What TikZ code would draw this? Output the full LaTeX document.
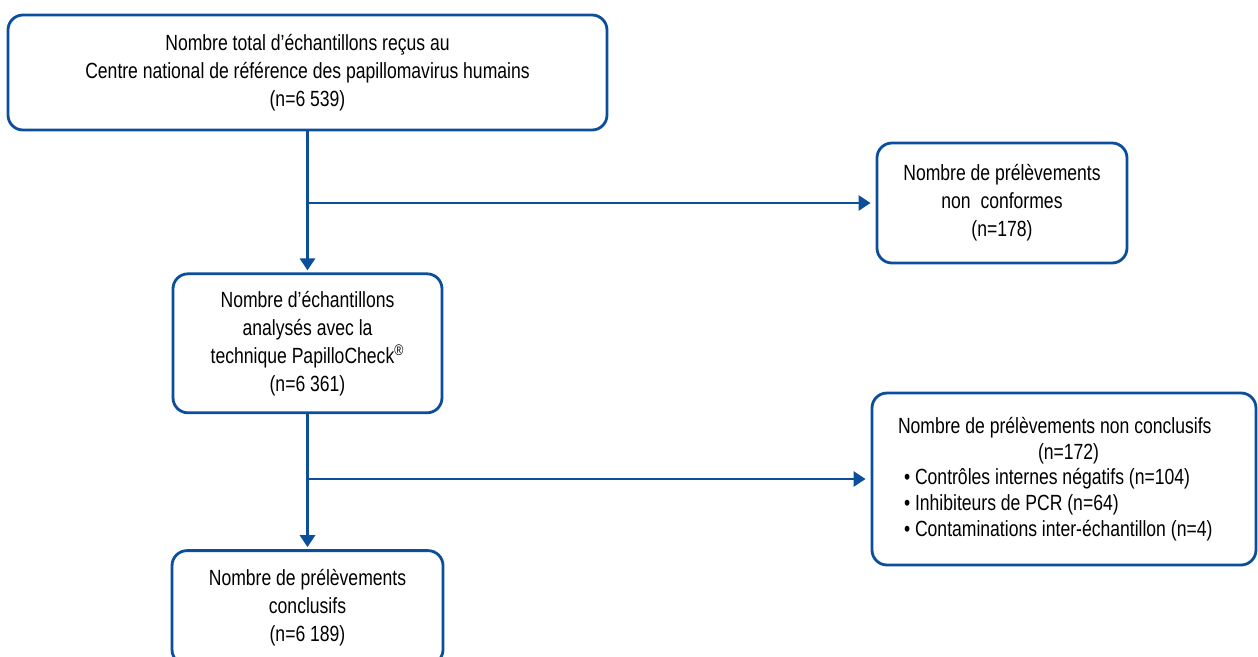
\documentclass[tikz,border=0pt]{standalone}
\usepackage{fontspec}
\setmainfont{Liberation Sans}[FakeStretch=0.8]
\usepackage{tikz}
\usetikzlibrary{arrows.meta,positioning,calc}
\definecolor{flowBlue}{HTML}{0B4F9C}

\begin{document}
\begin{tikzpicture}[
            box/.style={
                    rectangle,
                    rounded corners=0.3cm,
                    draw=flowBlue,
                    line width=1.6pt,
                    fill=white,
                    align=center,
                    inner sep=0pt,
                    font=\fontsize{12.5}{15.9}\selectfont
                },
            arrow/.style={-{Triangle[width=0.3cm,length=0.24cm]}, draw=flowBlue, line width=1.6pt}
        ]
        \useasboundingbox (0,0) rectangle (25.16,-13.12);

        \node[box, minimum width=11.98cm, minimum height=2.3cm] (total) at (6.15,-1.45)
            {Nombre total d’échantillons reçus au\\Centre national de référence des papillomavirus humains\\(n=6 539)};
        \node[box, minimum width=5.38cm, minimum height=2.78cm, below=2.82cm of total] (analysed)
            {Nombre d’échantillons\\analysés avec la\\technique PapilloCheck\textsuperscript{®}\\(n=6 361)};
        \node[box, minimum width=5.42cm, minimum height=2.28cm, below=2.7cm of analysed] (concl)
            {Nombre de prélèvements\\conclusifs\\(n=6 189)};
        \node[box, minimum width=5.0cm, minimum height=2.4cm] (nonconf) at (20.04,-4.06)
            {Nombre de prélèvements\\non~~conformes\\(n=178)};
        \node[box, text width=6.64cm, inner xsep=0.52cm, minimum height=3.44cm, align=flush left,
              font=\fontsize{12.5}{14.6}\selectfont] (nonconcl) at (21.28,-9.58)
            {Nombre de prélèvements non conclusifs\\
             \hspace*{2.8cm}(n=172)\\
             \hspace*{0.12cm}• Contrôles internes négatifs (n=104)\\
             \hspace*{0.12cm}• Inhibiteurs de PCR (n=64)\\
             \hspace*{0.12cm}• Contaminations inter-échantillon (n=4)};

        \draw[arrow, shorten >=0.04cm] (total) -- (analysed);
        \draw[arrow, shorten >=0.1cm] (total.south |- nonconf.west) -- (nonconf.west);
        \draw[arrow, shorten >=0.04cm] (analysed) -- (concl);
        \draw[arrow, shorten >=0.1cm] (analysed.south |- nonconcl.west) -- (nonconcl.west);
    \end{tikzpicture}
\end{document}
